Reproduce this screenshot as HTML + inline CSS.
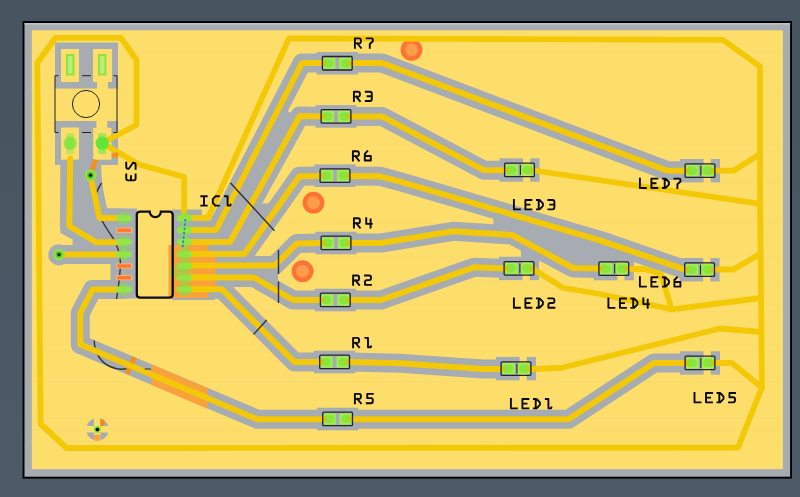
<!DOCTYPE html><html><head><meta charset="utf-8"><title>PCB</title><style>html,body{margin:0;padding:0;background:#4b5865;overflow:hidden;font-family:"Liberation Sans",sans-serif}svg{display:block}</style></head><body>
<svg width="800" height="497" viewBox="0 0 800 497">
<defs><linearGradient id="bg" x1="0" y1="0" x2="0" y2="1"><stop offset="0" stop-color="#47535f"/><stop offset="1" stop-color="#4d5a67"/></linearGradient><radialGradient id="pad"><stop offset="0" stop-color="#7fe236"/><stop offset=".55" stop-color="#8fe43c"/><stop offset="1" stop-color="#b4ea58"/></radialGradient></defs>
<rect width="800" height="497" fill="url(#bg)"/>
<rect x="22.6" y="21.1" width="769.4" height="457.5" fill="#000"/>
<rect x="24.5" y="23" width="765.6" height="453.7" fill="#a7abb2"/><rect x="24.5" y="23" width="765.6" height="1.6" fill="#bfc3c8"/>
<rect x="31.8" y="30.3" width="751.1" height="438.8" fill="#fede6b"/>
<line x1="31.4" x2="782.9" y1="51.1" y2="51.1" stroke="#f3d873" stroke-width="0.8" opacity=".7"/>
<line x1="31.4" x2="782.9" y1="89" y2="89" stroke="#f3d873" stroke-width="0.8" opacity=".7"/>
<line x1="31.4" x2="782.9" y1="144" y2="144" stroke="#f3d873" stroke-width="0.8" opacity=".7"/>
<line x1="31.4" x2="782.9" y1="182" y2="182" stroke="#f3d873" stroke-width="0.8" opacity=".7"/>
<line x1="31.4" x2="782.9" y1="223" y2="223" stroke="#f3d873" stroke-width="0.8" opacity=".7"/>
<line x1="31.4" x2="782.9" y1="257.7" y2="257.7" stroke="#f3d873" stroke-width="0.8" opacity=".7"/>
<line x1="31.4" x2="782.9" y1="281.6" y2="281.6" stroke="#f3d873" stroke-width="0.8" opacity=".7"/>
<line x1="31.4" x2="782.9" y1="311.8" y2="311.8" stroke="#f3d873" stroke-width="0.8" opacity=".7"/>
<line x1="31.4" x2="782.9" y1="351.3" y2="351.3" stroke="#f3d873" stroke-width="0.8" opacity=".7"/>
<line x1="31.4" x2="782.9" y1="381.5" y2="381.5" stroke="#f3d873" stroke-width="0.8" opacity=".7"/>
<line x1="31.4" x2="782.9" y1="418" y2="418" stroke="#f3d873" stroke-width="0.8" opacity=".7"/>
<line x1="31.4" x2="782.9" y1="430" y2="430" stroke="#f3d873" stroke-width="0.8" opacity=".7"/>
<line x1="31.4" x2="782.9" y1="441.5" y2="441.5" stroke="#f3d873" stroke-width="0.8" opacity=".7"/>
<g fill="none" stroke="#a7abb2" stroke-width="19" stroke-linejoin="round" stroke-linecap="round">
<polyline points="184.0,230.0 216.0,230.0 302.0,63.0 324.0,63.0"/>
<polyline points="184.0,242.0 230.0,242.0 299.7,116.0 322.0,116.4"/>
<polyline points="184.0,254.0 244.4,254.0 299.4,176.3 322.0,176.0"/>
<polyline points="184.0,265.6 274.6,265.6 296.8,243.6 322.0,243.0"/>
<polyline points="184.0,277.5 254.0,277.5 293.0,300.0 322.0,300.0"/>
<polyline points="184.0,289.3 222.0,289.3 294.5,362.0 322.0,362.0"/>
<polyline points="124.0,289.6 92.5,289.6 80.3,313.0 80.3,344.5 257.5,419.3 324.0,419.3"/>
<polyline points="350.0,63.0 382.0,63.0 666.7,170.5 688.0,170.7"/>
<polyline points="350.0,116.4 382.0,116.4 484.3,170.3 506.0,170.3"/>
<polyline points="350.0,176.0 380.0,176.3 400.0,181.6 600.0,240.3 684.0,269.3 688.0,269.5"/>
<polyline points="350.0,243.0 381.0,243.0 453.0,231.3 512.0,235.0 573.0,268.0 600.0,268.5"/>
<polyline points="350.0,300.0 381.0,300.0 474.0,267.3 506.0,268.4"/>
<polyline points="350.0,362.0 400.0,363.3 483.0,369.0 503.0,369.0"/>
<polyline points="352.0,419.3 568.5,419.3 654.0,363.0 688.0,363.0"/>
<polyline points="70.2,158.5 69.3,226.0 96.0,242.2 124.0,242.2"/>
<polyline points="90.5,176.0 99.4,218.0 124.0,218.0"/>
<polyline points="59.0,254.6 124.0,254.6"/>
</g>
<g fill="#a7abb2">
<rect x="55" y="42.5" width="63" height="46"/>
<rect x="55" y="121" width="63" height="44"/>
<polygon points="55,160 101,160 101.5,175 105,208.5 137,208.5 137,298.5 110.5,298.5 110.5,246 72.6,246 72.6,239.5 60.5,233 60.5,165 55,165"/>
<polygon points="172,209.4 201.9,209.4 201.9,221 215,240 215,300 172,300"/>
<polygon points="216,230 279,108 299.7,116 230,242"/>
<polygon points="230,242 251.4,203.5 280,203.5 244.4,254"/>
<polygon points="254,266 278,258 278,284 254,277"/>
<polygon points="493.4,232 493.4,207 600,240.3 640,254 640,262 593.7,262 593.7,272 573,268 512,235"/>
<rect x="521" y="240" width="18.4" height="22"/>
<circle cx="58.9" cy="254.8" r="10.6"/>
<circle cx="90.5" cy="175.5" r="9.5"/>
<rect x="316.7" y="52.0" width="41.2" height="22.6"/>
<rect x="315.4" y="105.1" width="41.2" height="22.6"/>
<rect x="314.4" y="164.4" width="41.2" height="22.6"/>
<rect x="315.4" y="231.7" width="41.2" height="22.6"/>
<rect x="314.7" y="288.7" width="41.2" height="22.6"/>
<rect x="314.0" y="350.7" width="41.2" height="22.6"/>
<rect x="317.0" y="407.7" width="41.2" height="22.6"/>
<rect x="499.5" y="158.3" width="23.6" height="23.4"/>
<rect x="530.2" y="158.3" width="9.3" height="23.4"/>
<rect x="680.0" y="159.0" width="23.6" height="23.4"/>
<rect x="710.7" y="159.0" width="9.3" height="23.4"/>
<rect x="499.0" y="256.7" width="23.6" height="23.4"/>
<rect x="529.7" y="256.7" width="9.3" height="23.4"/>
<rect x="593.8" y="256.9" width="23.6" height="23.4"/>
<rect x="624.5" y="256.9" width="9.3" height="23.4"/>
<rect x="679.6" y="258.0" width="23.6" height="23.4"/>
<rect x="710.3" y="258.0" width="9.3" height="23.4"/>
<rect x="496.0" y="356.9" width="23.6" height="23.4"/>
<rect x="526.7" y="356.9" width="9.3" height="23.4"/>
<rect x="680.0" y="351.3" width="23.6" height="23.4"/>
<rect x="710.7" y="351.3" width="9.3" height="23.4"/>
</g>
<clipPath id="oc"><rect x="151.5" y="350" width="56" height="70"/></clipPath>
<polyline points="140.0,369.8 220.0,403.6" fill="none" stroke="#f9a23c" stroke-width="19" clip-path="url(#oc)"/>
<line x1="134.6" y1="357.3" x2="127" y2="373.4" stroke="#f2900f" stroke-width="5"/>
<polygon points="169.4,245 208.4,245 208.4,256.7 215.5,256.7 215.5,287 208.4,287 208.4,298 169.4,298" fill="#f9a23c"/>
<g fill="#fede6b">
<rect x="61" y="49" width="18" height="33"/><rect x="93" y="49" width="19" height="33"/><rect x="97" y="80" width="11" height="10"/>
<rect x="61" y="127.5" width="18" height="32.2"/><rect x="93.2" y="127.8" width="18.3" height="31.9"/><rect x="96.4" y="119" width="10.9" height="10"/>
<rect x="137" y="212" width="35.5" height="86"/>
</g>
<rect x="168.5" y="245" width="4.5" height="53" fill="#f9a23c"/>
<circle cx="411.5" cy="49.8" r="10.9" fill="#ff7235"/><circle cx="411.5" cy="49.8" r="6.5" fill="#ff9b49"/>
<circle cx="313.5" cy="202.7" r="10.9" fill="#ff7235"/><circle cx="313.5" cy="202.7" r="6.5" fill="#ff9b49"/>
<circle cx="302.6" cy="271.2" r="10.9" fill="#ff7235"/><circle cx="302.6" cy="271.2" r="6.5" fill="#ff9b49"/>
<g fill="none" stroke="#333" stroke-width="1.4">
<path d="M101.5,183 C97,190 94,196 95,203 C97,215 106,228 113,238 C118,247 120.5,255 120.4,263 C120.4,275 118,290 116.5,299"/>
<path d="M94.2,340.4 C94.5,352 100,362 110,366.5 S122,369 126.5,368.6"/>
</g>
<g fill="none" stroke="#f3c806" stroke-width="6.0" stroke-linejoin="round" stroke-linecap="round">
<polyline points="184.0,230.0 216.0,230.0 302.0,63.0 324.0,63.0"/>
<polyline points="184.0,242.0 230.0,242.0 299.7,116.0 322.0,116.4"/>
<polyline points="184.0,254.0 244.4,254.0 299.4,176.3 322.0,176.0"/>
<polyline points="184.0,265.6 274.6,265.6 296.8,243.6 322.0,243.0"/>
<polyline points="184.0,277.5 254.0,277.5 293.0,300.0 322.0,300.0"/>
<polyline points="184.0,289.3 222.0,289.3 294.5,362.0 322.0,362.0"/>
<polyline points="124.0,289.6 92.5,289.6 80.3,313.0 80.3,344.5 257.5,419.3 324.0,419.3"/>
<polyline points="350.0,63.0 382.0,63.0 666.7,170.5 688.0,170.7"/>
<polyline points="350.0,116.4 382.0,116.4 484.3,170.3 506.0,170.3"/>
<polyline points="350.0,176.0 380.0,176.3 400.0,181.6 600.0,240.3 684.0,269.3 688.0,269.5"/>
<polyline points="350.0,243.0 381.0,243.0 453.0,231.3 512.0,235.0 573.0,268.0 600.0,268.5"/>
<polyline points="350.0,300.0 381.0,300.0 474.0,267.3 506.0,268.4"/>
<polyline points="350.0,362.0 400.0,363.3 483.0,369.0 503.0,369.0"/>
<polyline points="352.0,419.3 568.5,419.3 654.0,363.0 688.0,363.0"/>
<polyline points="70.2,158.5 69.3,226.0 96.0,242.2 124.0,242.2"/>
<polyline points="90.5,176.0 99.4,218.0 124.0,218.0"/>
<polyline points="59.0,254.6 124.0,254.6"/>
<polyline points="66.7,448.0 738.0,447.6 761.9,387.5 760.1,200.0 760.0,66.5 723.0,39.8 289.0,38.4 208.0,218.0 184.0,218.0" stroke-width="5.8"/>
<polyline points="184.0,218.0 184.3,177.0 139.0,164.5 102.0,143.0 136.5,125.0 136.5,60.0 121.0,37.8 55.5,37.8 37.3,63.0 40.6,424.0 66.7,448.0" stroke-width="5.8"/>
<polyline points="715.0,170.7 733.5,170.7 760.0,154.0" stroke-width="5.8"/>
<polyline points="534.0,170.5 760.1,203.8" stroke-width="5.8"/>
<polyline points="534.0,269.8 563.5,288.0 600.0,294.0 671.7,309.3 761.0,298.0" stroke-width="5.8"/>
<polyline points="628.0,269.0 645.0,269.0 661.0,274.0 671.7,309.3" stroke-width="5.8"/>
<polyline points="715.0,269.5 733.5,269.5 760.6,253.5" stroke-width="5.8"/>
<polyline points="531.0,369.0 561.0,368.0 720.0,328.5 761.3,332.0" stroke-width="5.8"/>
<polyline points="715.0,363.0 732.0,363.0 761.9,387.5" stroke-width="5.8"/>
</g>
<line x1="91.3" y1="173" x2="95.7" y2="159.8" stroke="#f5901c" stroke-width="5"/>
<polygon points="111.8,155 114.5,152.6 118.3,152.6 118.3,157.4 111.8,157.4" fill="#f5901c"/>
<rect x="66" y="54" width="8.5" height="21.5" fill="#8fe23f"/><rect x="68" y="56" width="4.5" height="17.5" fill="#b9ee78"/>
<rect x="98" y="54" width="8.5" height="21.5" fill="#8fe23f"/><rect x="100" y="56" width="4.5" height="17.5" fill="#b9ee78"/>
<rect x="66.0" y="133" width="8.2" height="21.2" rx="2" fill="#8fe94e" opacity="0.53"/>
<circle cx="70.1" cy="143.2" r="6.6" fill="#5fe636" opacity="0.62"/>
<rect x="98.10000000000001" y="133" width="8.2" height="21.2" rx="2" fill="#8fe94e" opacity="0.81"/>
<circle cx="102.2" cy="143.2" r="6.6" fill="#5fe636" opacity="0.95"/>
<circle cx="124.1" cy="218.2" r="6.4" fill="#7ee04c" opacity=".6"/><rect x="116.5" y="215.5" width="15.2" height="5.4" rx="1.2" fill="#8fe843" opacity=".88"/>
<circle cx="184.5" cy="218.2" r="6.4" fill="#7ee04c" opacity=".6"/><rect x="176.9" y="215.5" width="15.2" height="5.4" rx="1.2" fill="#8fe843" opacity=".88"/>
<rect x="116" y="227.5" width="16.4" height="5.4" fill="#fbb36a"/><rect x="117.3" y="228.5" width="13.8" height="3.4" fill="#ff7733"/>
<circle cx="184.5" cy="230.2" r="6.4" fill="#7ee04c" opacity=".6"/><rect x="176.9" y="227.5" width="15.2" height="5.4" rx="1.2" fill="#8fe843" opacity=".88"/>
<circle cx="124.1" cy="242" r="6.4" fill="#7ee04c" opacity=".6"/><rect x="116.5" y="239.3" width="15.2" height="5.4" rx="1.2" fill="#8fe843" opacity=".88"/>
<circle cx="184.5" cy="242" r="6.4" fill="#7ee04c" opacity=".6"/><rect x="176.9" y="239.3" width="15.2" height="5.4" rx="1.2" fill="#8fe843" opacity=".88"/>
<circle cx="124.1" cy="254.2" r="6.4" fill="#7ee04c" opacity=".6"/><rect x="116.5" y="251.5" width="15.2" height="5.4" rx="1.2" fill="#8fe843" opacity=".88"/>
<circle cx="184.5" cy="254.2" r="6.4" fill="#7ee04c" opacity=".6"/><rect x="176.9" y="251.5" width="15.2" height="5.4" rx="1.2" fill="#8fe843" opacity=".88"/>
<rect x="116" y="263.3" width="16.4" height="5.4" fill="#fbb36a"/><rect x="117.3" y="264.3" width="13.8" height="3.4" fill="#ff7733"/>
<circle cx="184.5" cy="266" r="6.4" fill="#7ee04c" opacity=".6"/><rect x="176.9" y="263.3" width="15.2" height="5.4" rx="1.2" fill="#8fe843" opacity=".88"/>
<rect x="116" y="275.0" width="16.4" height="5.4" fill="#fbb36a"/><rect x="117.3" y="276.0" width="13.8" height="3.4" fill="#ff7733"/>
<circle cx="184.5" cy="277.7" r="6.4" fill="#7ee04c" opacity=".6"/><rect x="176.9" y="275.0" width="15.2" height="5.4" rx="1.2" fill="#8fe843" opacity=".88"/>
<circle cx="124.1" cy="289.5" r="6.4" fill="#7ee04c" opacity=".6"/><rect x="116.5" y="286.8" width="15.2" height="5.4" rx="1.2" fill="#8fe843" opacity=".88"/>
<circle cx="184.5" cy="289.5" r="6.4" fill="#7ee04c" opacity=".6"/><rect x="176.9" y="286.8" width="15.2" height="5.4" rx="1.2" fill="#8fe843" opacity=".88"/>
<circle cx="175.8" cy="271.6" r="6" fill="#7ee04c" opacity=".45"/>
<circle cx="59" cy="254.6" r="5.8" fill="#8ee04a"/><circle cx="59" cy="254.6" r="3.3" fill="#55c81f"/><circle cx="59" cy="254.6" r="1.7" fill="#0a1a05"/>
<circle cx="90.5" cy="175.3" r="6" fill="#8ee04a"/><circle cx="90.5" cy="175.3" r="3.4" fill="#55c81f"/><circle cx="90.5" cy="175.3" r="1.7" fill="#0a1a05"/>
<circle cx="97.4" cy="429.4" r="11.2" fill="#a7abb2"/>
<path d="M85.5,429.2H109.5M97.2,417.5V441" stroke="#fede6b" stroke-width="6.4"/>
<path d="M100.4,426 L100.4,418.6 A11.2,11.2 0 0 1 105.4,421.6 L102.4,426.6 Z" fill="#f28a12"/>
<rect x="94.2" y="434.6" width="5.9" height="6.2" fill="#fba444"/>
<circle cx="97.4" cy="429.4" r="3.9" fill="#a4ea3e"/><circle cx="97.4" cy="429.4" r="2" fill="#071203"/>
<rect x="323.5" y="57.6" width="11.9" height="11.3" fill="#a3eb52"/>
<path d="M324.5,58.8 h5.9 a4.6,4.6 0 0 1 0,9.1 h-5.9 z" fill="#86e63a" stroke="#b4ee6a" stroke-width=".5"/>
<ellipse cx="324.1" cy="63.3" rx="2.6" ry="2.7" fill="#cfc415"/>
<rect x="339.2" y="57.6" width="11.9" height="11.3" fill="#a3eb52"/>
<path d="M350.1,58.8 h-5.9 a4.6,4.6 0 0 0 0,9.1 h5.9 z" fill="#86e63a" stroke="#b4ee6a" stroke-width=".5"/>
<ellipse cx="350.5" cy="63.3" rx="2.6" ry="2.7" fill="#cfc415"/>
<rect x="322.4" y="56.5" width="29.8" height="13.5" rx="1" fill="none" stroke="#23262b" stroke-width="1.3"/>
<rect x="322.2" y="110.8" width="11.9" height="11.3" fill="#a3eb52"/>
<path d="M323.2,111.9 h5.9 a4.6,4.6 0 0 1 0,9.1 h-5.9 z" fill="#86e63a" stroke="#b4ee6a" stroke-width=".5"/>
<ellipse cx="322.8" cy="116.4" rx="2.6" ry="2.7" fill="#cfc415"/>
<rect x="337.9" y="110.8" width="11.9" height="11.3" fill="#a3eb52"/>
<path d="M348.8,111.9 h-5.9 a4.6,4.6 0 0 0 0,9.1 h5.9 z" fill="#86e63a" stroke="#b4ee6a" stroke-width=".5"/>
<ellipse cx="349.2" cy="116.4" rx="2.6" ry="2.7" fill="#cfc415"/>
<rect x="321.1" y="109.7" width="29.8" height="13.5" rx="1" fill="none" stroke="#23262b" stroke-width="1.3"/>
<rect x="321.2" y="170.0" width="11.9" height="11.3" fill="#a3eb52"/>
<path d="M322.2,171.1 h5.9 a4.6,4.6 0 0 1 0,9.1 h-5.9 z" fill="#86e63a" stroke="#b4ee6a" stroke-width=".5"/>
<ellipse cx="321.8" cy="175.7" rx="2.6" ry="2.7" fill="#cfc415"/>
<rect x="336.9" y="170.0" width="11.9" height="11.3" fill="#a3eb52"/>
<path d="M347.8,171.1 h-5.9 a4.6,4.6 0 0 0 0,9.1 h5.9 z" fill="#86e63a" stroke="#b4ee6a" stroke-width=".5"/>
<ellipse cx="348.2" cy="175.7" rx="2.6" ry="2.7" fill="#cfc415"/>
<rect x="320.1" y="168.9" width="29.8" height="13.5" rx="1" fill="none" stroke="#23262b" stroke-width="1.3"/>
<rect x="322.2" y="237.3" width="11.9" height="11.3" fill="#a3eb52"/>
<path d="M323.2,238.4 h5.9 a4.6,4.6 0 0 1 0,9.1 h-5.9 z" fill="#86e63a" stroke="#b4ee6a" stroke-width=".5"/>
<ellipse cx="322.8" cy="243.0" rx="2.6" ry="2.7" fill="#cfc415"/>
<rect x="337.9" y="237.3" width="11.9" height="11.3" fill="#a3eb52"/>
<path d="M348.8,238.4 h-5.9 a4.6,4.6 0 0 0 0,9.1 h5.9 z" fill="#86e63a" stroke="#b4ee6a" stroke-width=".5"/>
<ellipse cx="349.2" cy="243.0" rx="2.6" ry="2.7" fill="#cfc415"/>
<rect x="321.1" y="236.2" width="29.8" height="13.5" rx="1" fill="none" stroke="#23262b" stroke-width="1.3"/>
<rect x="321.5" y="294.4" width="11.9" height="11.3" fill="#a3eb52"/>
<path d="M322.5,295.4 h5.9 a4.6,4.6 0 0 1 0,9.1 h-5.9 z" fill="#86e63a" stroke="#b4ee6a" stroke-width=".5"/>
<ellipse cx="322.1" cy="300.0" rx="2.6" ry="2.7" fill="#cfc415"/>
<rect x="337.2" y="294.4" width="11.9" height="11.3" fill="#a3eb52"/>
<path d="M348.1,295.4 h-5.9 a4.6,4.6 0 0 0 0,9.1 h5.9 z" fill="#86e63a" stroke="#b4ee6a" stroke-width=".5"/>
<ellipse cx="348.5" cy="300.0" rx="2.6" ry="2.7" fill="#cfc415"/>
<rect x="320.4" y="293.2" width="29.8" height="13.5" rx="1" fill="none" stroke="#23262b" stroke-width="1.3"/>
<rect x="320.8" y="356.4" width="11.9" height="11.3" fill="#a3eb52"/>
<path d="M321.8,357.4 h5.9 a4.6,4.6 0 0 1 0,9.1 h-5.9 z" fill="#86e63a" stroke="#b4ee6a" stroke-width=".5"/>
<ellipse cx="321.4" cy="362.0" rx="2.6" ry="2.7" fill="#cfc415"/>
<rect x="336.5" y="356.4" width="11.9" height="11.3" fill="#a3eb52"/>
<path d="M347.4,357.4 h-5.9 a4.6,4.6 0 0 0 0,9.1 h5.9 z" fill="#86e63a" stroke="#b4ee6a" stroke-width=".5"/>
<ellipse cx="347.8" cy="362.0" rx="2.6" ry="2.7" fill="#cfc415"/>
<rect x="319.7" y="355.2" width="29.8" height="13.5" rx="1" fill="none" stroke="#23262b" stroke-width="1.3"/>
<rect x="323.8" y="413.4" width="11.9" height="11.3" fill="#a3eb52"/>
<path d="M324.8,414.4 h5.9 a4.6,4.6 0 0 1 0,9.1 h-5.9 z" fill="#86e63a" stroke="#b4ee6a" stroke-width=".5"/>
<ellipse cx="324.4" cy="419.0" rx="2.6" ry="2.7" fill="#cfc415"/>
<rect x="339.5" y="413.4" width="11.9" height="11.3" fill="#a3eb52"/>
<path d="M350.4,414.4 h-5.9 a4.6,4.6 0 0 0 0,9.1 h5.9 z" fill="#86e63a" stroke="#b4ee6a" stroke-width=".5"/>
<ellipse cx="350.8" cy="419.0" rx="2.6" ry="2.7" fill="#cfc415"/>
<rect x="322.7" y="412.2" width="29.8" height="13.5" rx="1" fill="none" stroke="#23262b" stroke-width="1.3"/>
<rect x="505.7" y="164.3" width="12.5" height="11.3" fill="#a3eb52"/>
<path d="M506.7,165.4 h6.5 a4.6,4.6 0 0 1 0,9.1 h-6.5 z" fill="#86e63a" stroke="#b4ee6a" stroke-width=".5"/>
<ellipse cx="506.3" cy="170.0" rx="2.6" ry="2.7" fill="#cfc415"/>
<rect x="520.8" y="164.3" width="12.5" height="11.3" fill="#a3eb52"/>
<path d="M532.3,165.4 h-6.5 a4.6,4.6 0 0 0 0,9.1 h6.5 z" fill="#86e63a" stroke="#b4ee6a" stroke-width=".5"/>
<ellipse cx="532.7" cy="170.0" rx="2.6" ry="2.7" fill="#cfc415"/>
<rect x="504.6" y="163.2" width="29.8" height="13.5" rx="1" fill="none" stroke="#23262b" stroke-width="1.3"/>
<line x1="520.4" x2="520.4" y1="165.1" y2="174.9" stroke="#23262b" stroke-width="1.1"/>
<rect x="686.2" y="165.0" width="12.5" height="11.3" fill="#a3eb52"/>
<path d="M687.2,166.1 h6.5 a4.6,4.6 0 0 1 0,9.1 h-6.5 z" fill="#86e63a" stroke="#b4ee6a" stroke-width=".5"/>
<ellipse cx="686.8" cy="170.7" rx="2.6" ry="2.7" fill="#cfc415"/>
<rect x="701.3" y="165.0" width="12.5" height="11.3" fill="#a3eb52"/>
<path d="M712.8,166.1 h-6.5 a4.6,4.6 0 0 0 0,9.1 h6.5 z" fill="#86e63a" stroke="#b4ee6a" stroke-width=".5"/>
<ellipse cx="713.2" cy="170.7" rx="2.6" ry="2.7" fill="#cfc415"/>
<rect x="685.1" y="163.9" width="29.8" height="13.5" rx="1" fill="none" stroke="#23262b" stroke-width="1.3"/>
<line x1="700.9" x2="700.9" y1="165.8" y2="175.6" stroke="#23262b" stroke-width="1.1"/>
<rect x="505.2" y="262.8" width="12.5" height="11.3" fill="#a3eb52"/>
<path d="M506.2,263.8 h6.5 a4.6,4.6 0 0 1 0,9.1 h-6.5 z" fill="#86e63a" stroke="#b4ee6a" stroke-width=".5"/>
<ellipse cx="505.8" cy="268.4" rx="2.6" ry="2.7" fill="#cfc415"/>
<rect x="520.3" y="262.8" width="12.5" height="11.3" fill="#a3eb52"/>
<path d="M531.8,263.8 h-6.5 a4.6,4.6 0 0 0 0,9.1 h6.5 z" fill="#86e63a" stroke="#b4ee6a" stroke-width=".5"/>
<ellipse cx="532.2" cy="268.4" rx="2.6" ry="2.7" fill="#cfc415"/>
<rect x="504.1" y="261.6" width="29.8" height="13.5" rx="1" fill="none" stroke="#23262b" stroke-width="1.3"/>
<line x1="519.9" x2="519.9" y1="263.4" y2="273.3" stroke="#23262b" stroke-width="1.1"/>
<rect x="600.0" y="263.0" width="12.5" height="11.3" fill="#a3eb52"/>
<path d="M601.0,264.1 h6.5 a4.6,4.6 0 0 1 0,9.1 h-6.5 z" fill="#86e63a" stroke="#b4ee6a" stroke-width=".5"/>
<ellipse cx="600.6" cy="268.6" rx="2.6" ry="2.7" fill="#cfc415"/>
<rect x="615.1" y="263.0" width="12.5" height="11.3" fill="#a3eb52"/>
<path d="M626.6,264.1 h-6.5 a4.6,4.6 0 0 0 0,9.1 h6.5 z" fill="#86e63a" stroke="#b4ee6a" stroke-width=".5"/>
<ellipse cx="627.0" cy="268.6" rx="2.6" ry="2.7" fill="#cfc415"/>
<rect x="598.9" y="261.9" width="29.8" height="13.5" rx="1" fill="none" stroke="#23262b" stroke-width="1.3"/>
<line x1="614.7" x2="614.7" y1="263.7" y2="273.6" stroke="#23262b" stroke-width="1.1"/>
<rect x="685.8" y="264.1" width="12.5" height="11.3" fill="#a3eb52"/>
<path d="M686.8,265.1 h6.5 a4.6,4.6 0 0 1 0,9.1 h-6.5 z" fill="#86e63a" stroke="#b4ee6a" stroke-width=".5"/>
<ellipse cx="686.4" cy="269.7" rx="2.6" ry="2.7" fill="#cfc415"/>
<rect x="700.9" y="264.1" width="12.5" height="11.3" fill="#a3eb52"/>
<path d="M712.4,265.1 h-6.5 a4.6,4.6 0 0 0 0,9.1 h6.5 z" fill="#86e63a" stroke="#b4ee6a" stroke-width=".5"/>
<ellipse cx="712.8" cy="269.7" rx="2.6" ry="2.7" fill="#cfc415"/>
<rect x="684.7" y="262.9" width="29.8" height="13.5" rx="1" fill="none" stroke="#23262b" stroke-width="1.3"/>
<line x1="700.5" x2="700.5" y1="264.8" y2="274.6" stroke="#23262b" stroke-width="1.1"/>
<rect x="502.2" y="363.0" width="12.5" height="11.3" fill="#a3eb52"/>
<path d="M503.2,364.1 h6.5 a4.6,4.6 0 0 1 0,9.1 h-6.5 z" fill="#86e63a" stroke="#b4ee6a" stroke-width=".5"/>
<ellipse cx="502.8" cy="368.6" rx="2.6" ry="2.7" fill="#cfc415"/>
<rect x="517.3" y="363.0" width="12.5" height="11.3" fill="#a3eb52"/>
<path d="M528.8,364.1 h-6.5 a4.6,4.6 0 0 0 0,9.1 h6.5 z" fill="#86e63a" stroke="#b4ee6a" stroke-width=".5"/>
<ellipse cx="529.2" cy="368.6" rx="2.6" ry="2.7" fill="#cfc415"/>
<rect x="501.1" y="361.9" width="29.8" height="13.5" rx="1" fill="none" stroke="#23262b" stroke-width="1.3"/>
<line x1="516.9" x2="516.9" y1="363.7" y2="373.6" stroke="#23262b" stroke-width="1.1"/>
<rect x="686.2" y="357.4" width="12.5" height="11.3" fill="#a3eb52"/>
<path d="M687.2,358.4 h6.5 a4.6,4.6 0 0 1 0,9.1 h-6.5 z" fill="#86e63a" stroke="#b4ee6a" stroke-width=".5"/>
<ellipse cx="686.8" cy="363.0" rx="2.6" ry="2.7" fill="#cfc415"/>
<rect x="701.3" y="357.4" width="12.5" height="11.3" fill="#a3eb52"/>
<path d="M712.8,358.4 h-6.5 a4.6,4.6 0 0 0 0,9.1 h6.5 z" fill="#86e63a" stroke="#b4ee6a" stroke-width=".5"/>
<ellipse cx="713.2" cy="363.0" rx="2.6" ry="2.7" fill="#cfc415"/>
<rect x="685.1" y="356.2" width="29.8" height="13.5" rx="1" fill="none" stroke="#23262b" stroke-width="1.3"/>
<line x1="700.9" x2="700.9" y1="358.1" y2="367.9" stroke="#23262b" stroke-width="1.1"/>
<g fill="none" stroke="#222" stroke-width="1">
<circle cx="86" cy="104" r="13.6"/>
<path d="M58.5,75.7H55V132.5H58.5M82,75.7H91M113.5,75.7H117V132.5H113.5M82,132.5H91"/>
<path d="M230.5,183L274.5,230.7M278.5,250V274M278.5,281.6V303M266.7,320L253.6,334.4" stroke="#333" stroke-width="1.4"/>
<path d="M144.6,369H151" stroke="#333"/>
</g>
<line x1="185.4" y1="219" x2="182.6" y2="248.5" stroke="#267fe2" stroke-width="1.7" stroke-dasharray="2.6,1.7"/>
<path d="M140.2,211.6 H149.7 A5.6,5.6 0 0 0 160.9,211.6 H169.3 Q172.7,211.6 172.7,215 V294.2 Q172.7,297.6 169.3,297.6 H140.2 Q136.8,297.6 136.8,294.2 V215 Q136.8,211.6 140.2,211.6 Z" fill="none" stroke="#0c0c0c" stroke-width="2.3"/>
<g transform="translate(354.9,38.4)" fill="none" stroke="#0a0a0a" stroke-width="1.9" stroke-linecap="square" stroke-linejoin="round"><path vector-effect="non-scaling-stroke" transform="translate(0.0,0) scale(0.7500,0.8500)" d="M0,11V0H5.6Q8,0 8,2.4V3.4Q8,5.8 5.6,5.8H0M3.2,5.8L8,11"/><path vector-effect="non-scaling-stroke" transform="translate(11.9,0) scale(0.7500,0.8500)" d="M0,0H6.6Q8,0 8,1.4V3.4L4,6.6V11"/></g>
<g transform="translate(353.9,91.7)" fill="none" stroke="#0a0a0a" stroke-width="1.9" stroke-linecap="square" stroke-linejoin="round"><path vector-effect="non-scaling-stroke" transform="translate(0.0,0) scale(0.7500,0.8500)" d="M0,11V0H5.6Q8,0 8,2.4V3.4Q8,5.8 5.6,5.8H0M3.2,5.8L8,11"/><path vector-effect="non-scaling-stroke" transform="translate(11.9,0) scale(0.7500,0.8500)" d="M0,0H5.6Q8,0 8,2.4V8.6Q8,11 5.6,11H0M2.4,5.4H8"/></g>
<g transform="translate(352.9,151.2)" fill="none" stroke="#0a0a0a" stroke-width="1.9" stroke-linecap="square" stroke-linejoin="round"><path vector-effect="non-scaling-stroke" transform="translate(0.0,0) scale(0.7500,0.8500)" d="M0,11V0H5.6Q8,0 8,2.4V3.4Q8,5.8 5.6,5.8H0M3.2,5.8L8,11"/><path vector-effect="non-scaling-stroke" transform="translate(11.9,0) scale(0.7500,0.8500)" d="M3.4,0L0,3.2V11H8V5.6H0"/></g>
<g transform="translate(353.9,218.3)" fill="none" stroke="#0a0a0a" stroke-width="1.9" stroke-linecap="square" stroke-linejoin="round"><path vector-effect="non-scaling-stroke" transform="translate(0.0,0) scale(0.7500,0.8500)" d="M0,11V0H5.6Q8,0 8,2.4V3.4Q8,5.8 5.6,5.8H0M3.2,5.8L8,11"/><path vector-effect="non-scaling-stroke" transform="translate(11.9,0) scale(0.7500,0.8500)" d="M.6,0V6.6H8M6.4,1.4V11"/></g>
<g transform="translate(353.1,275.5)" fill="none" stroke="#0a0a0a" stroke-width="1.9" stroke-linecap="square" stroke-linejoin="round"><path vector-effect="non-scaling-stroke" transform="translate(0.0,0) scale(0.7500,0.8500)" d="M0,11V0H5.6Q8,0 8,2.4V3.4Q8,5.8 5.6,5.8H0M3.2,5.8L8,11"/><path vector-effect="non-scaling-stroke" transform="translate(11.9,0) scale(0.7500,0.8500)" d="M0,0H5.6Q8,0 8,2.4V3Q8,5.4 5.6,5.4H2.4Q0,5.4 0,7.8V11H8"/></g>
<g transform="translate(353.1,337.9)" fill="none" stroke="#0a0a0a" stroke-width="1.9" stroke-linecap="square" stroke-linejoin="round"><path vector-effect="non-scaling-stroke" transform="translate(0.0,0) scale(0.7500,0.8500)" d="M0,11V0H5.6Q8,0 8,2.4V3.4Q8,5.8 5.6,5.8H0M3.2,5.8L8,11"/><path vector-effect="non-scaling-stroke" transform="translate(11.9,0) scale(0.7500,0.8500)" d="M.6,0H4V11H7.4Q8,11 8,10"/></g>
<g transform="translate(354.9,393.9)" fill="none" stroke="#0a0a0a" stroke-width="1.9" stroke-linecap="square" stroke-linejoin="round"><path vector-effect="non-scaling-stroke" transform="translate(0.0,0) scale(0.7500,0.8500)" d="M0,11V0H5.6Q8,0 8,2.4V3.4Q8,5.8 5.6,5.8H0M3.2,5.8L8,11"/><path vector-effect="non-scaling-stroke" transform="translate(11.9,0) scale(0.7500,0.8500)" d="M8,0H.6V5H5.6Q8,5 8,7.4V8.6Q8,11 5.6,11H0"/></g>
<g transform="translate(513.9,200.0)" fill="none" stroke="#0a0a0a" stroke-width="1.9" stroke-linecap="square" stroke-linejoin="round"><path vector-effect="non-scaling-stroke" transform="translate(0.0,0) scale(0.7500,0.8500)" d="M0,0V11H8"/><path vector-effect="non-scaling-stroke" transform="translate(11.5,0) scale(0.7500,0.8500)" d="M8,0H0V11H8M0,5.4H5.5"/><path vector-effect="non-scaling-stroke" transform="translate(23.0,0) scale(0.7500,0.8500)" d="M2.4,0V11M0,0H3.6L8,4V7L3.6,11H0"/><path vector-effect="non-scaling-stroke" transform="translate(34.5,0) scale(0.7500,0.8500)" d="M0,0H5.6Q8,0 8,2.4V8.6Q8,11 5.6,11H0M2.4,5.4H8"/></g>
<g transform="translate(639.9,178.6)" fill="none" stroke="#0a0a0a" stroke-width="1.9" stroke-linecap="square" stroke-linejoin="round"><path vector-effect="non-scaling-stroke" transform="translate(0.0,0) scale(0.7500,0.8500)" d="M0,0V11H8"/><path vector-effect="non-scaling-stroke" transform="translate(11.5,0) scale(0.7500,0.8500)" d="M8,0H0V11H8M0,5.4H5.5"/><path vector-effect="non-scaling-stroke" transform="translate(23.0,0) scale(0.7500,0.8500)" d="M2.4,0V11M0,0H3.6L8,4V7L3.6,11H0"/><path vector-effect="non-scaling-stroke" transform="translate(34.5,0) scale(0.7500,0.8500)" d="M0,0H6.6Q8,0 8,1.4V3.4L4,6.6V11"/></g>
<g transform="translate(513.9,298.4)" fill="none" stroke="#0a0a0a" stroke-width="1.9" stroke-linecap="square" stroke-linejoin="round"><path vector-effect="non-scaling-stroke" transform="translate(0.0,0) scale(0.7500,0.8500)" d="M0,0V11H8"/><path vector-effect="non-scaling-stroke" transform="translate(11.5,0) scale(0.7500,0.8500)" d="M8,0H0V11H8M0,5.4H5.5"/><path vector-effect="non-scaling-stroke" transform="translate(23.0,0) scale(0.7500,0.8500)" d="M2.4,0V11M0,0H3.6L8,4V7L3.6,11H0"/><path vector-effect="non-scaling-stroke" transform="translate(34.5,0) scale(0.7500,0.8500)" d="M0,0H5.6Q8,0 8,2.4V3Q8,5.4 5.6,5.4H2.4Q0,5.4 0,7.8V11H8"/></g>
<g transform="translate(608.4,298.5)" fill="none" stroke="#0a0a0a" stroke-width="1.9" stroke-linecap="square" stroke-linejoin="round"><path vector-effect="non-scaling-stroke" transform="translate(0.0,0) scale(0.7500,0.8500)" d="M0,0V11H8"/><path vector-effect="non-scaling-stroke" transform="translate(11.5,0) scale(0.7500,0.8500)" d="M8,0H0V11H8M0,5.4H5.5"/><path vector-effect="non-scaling-stroke" transform="translate(23.0,0) scale(0.7500,0.8500)" d="M2.4,0V11M0,0H3.6L8,4V7L3.6,11H0"/><path vector-effect="non-scaling-stroke" transform="translate(34.5,0) scale(0.7500,0.8500)" d="M.6,0V6.6H8M6.4,1.4V11"/></g>
<g transform="translate(639.9,277.3)" fill="none" stroke="#0a0a0a" stroke-width="1.9" stroke-linecap="square" stroke-linejoin="round"><path vector-effect="non-scaling-stroke" transform="translate(0.0,0) scale(0.7500,0.8500)" d="M0,0V11H8"/><path vector-effect="non-scaling-stroke" transform="translate(11.5,0) scale(0.7500,0.8500)" d="M8,0H0V11H8M0,5.4H5.5"/><path vector-effect="non-scaling-stroke" transform="translate(23.0,0) scale(0.7500,0.8500)" d="M2.4,0V11M0,0H3.6L8,4V7L3.6,11H0"/><path vector-effect="non-scaling-stroke" transform="translate(34.5,0) scale(0.7500,0.8500)" d="M3.4,0L0,3.2V11H8V5.6H0"/></g>
<g transform="translate(510.9,399.0)" fill="none" stroke="#0a0a0a" stroke-width="1.9" stroke-linecap="square" stroke-linejoin="round"><path vector-effect="non-scaling-stroke" transform="translate(0.0,0) scale(0.7500,0.8500)" d="M0,0V11H8"/><path vector-effect="non-scaling-stroke" transform="translate(11.5,0) scale(0.7500,0.8500)" d="M8,0H0V11H8M0,5.4H5.5"/><path vector-effect="non-scaling-stroke" transform="translate(23.0,0) scale(0.7500,0.8500)" d="M2.4,0V11M0,0H3.6L8,4V7L3.6,11H0"/><path vector-effect="non-scaling-stroke" transform="translate(34.5,0) scale(0.7500,0.8500)" d="M.6,0H4V11H7.4Q8,11 8,10"/></g>
<g transform="translate(694.5,393.0)" fill="none" stroke="#0a0a0a" stroke-width="1.9" stroke-linecap="square" stroke-linejoin="round"><path vector-effect="non-scaling-stroke" transform="translate(0.0,0) scale(0.7500,0.8500)" d="M0,0V11H8"/><path vector-effect="non-scaling-stroke" transform="translate(11.5,0) scale(0.7500,0.8500)" d="M8,0H0V11H8M0,5.4H5.5"/><path vector-effect="non-scaling-stroke" transform="translate(23.0,0) scale(0.7500,0.8500)" d="M2.4,0V11M0,0H3.6L8,4V7L3.6,11H0"/><path vector-effect="non-scaling-stroke" transform="translate(34.5,0) scale(0.7500,0.8500)" d="M8,0H.6V5H5.6Q8,5 8,7.4V8.6Q8,11 5.6,11H0"/></g>
<g transform="translate(201.0,196.3)" fill="none" stroke="#0a0a0a" stroke-width="1.9" stroke-linecap="square" stroke-linejoin="round"><path vector-effect="non-scaling-stroke" transform="translate(0.0,0) scale(0.7500,0.8500)" d="M.4,0H7.6M4,0V11M.4,11H7.6"/><path vector-effect="non-scaling-stroke" transform="translate(11.8,0) scale(0.7500,0.8500)" d="M8,0H3.4L0,3.4V7.6L3.4,11H8"/><path vector-effect="non-scaling-stroke" transform="translate(23.6,0) scale(0.7500,0.8500)" d="M.6,0H4V11H7.4Q8,11 8,10"/></g>
<g transform="translate(135.6,162.8) rotate(90)" fill="none" stroke="#0a0a0a" stroke-width="1.9" stroke-linecap="square" stroke-linejoin="round"><path vector-effect="non-scaling-stroke" transform="translate(0.0,0) scale(0.7500,0.8500)" d="M8,0H2.4Q0,0 0,2.4V3L8,8V8.6Q8,11 5.6,11H0"/><path vector-effect="non-scaling-stroke" transform="translate(11.6,0) scale(0.7500,0.8500)" d="M0,0H5.6Q8,0 8,2.4V8.6Q8,11 5.6,11H0M2.4,5.4H8"/></g>
</svg></body></html>
